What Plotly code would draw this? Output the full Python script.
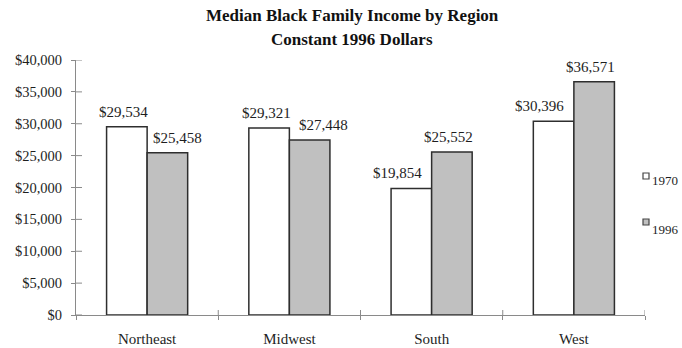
import plotly.graph_objects as go

regions = ["Northeast", "Midwest", "South", "West"]
income_1970 = [29534, 29321, 19854, 30396]
income_1996 = [25458, 27448, 25552, 36571]
years = ["1970", "1996"]
y_ticks = [0, 5000, 10000, 15000, 20000, 25000, 30000, 35000, 40000]
title_lines = ["Median Black Family Income by Region", "Constant 1996 Dollars"]

SERIF = "Liberation Serif, Times New Roman, serif"
fills = ["#ffffff", "#c0c0c0"]
AXIS_GRAY = "#8a8a8a"
TEXT = "#1e1e1e"

# plot area in pixels
L, R, T, B = 76, 37, 60, 33
W, H = 682, 348
pw, ph = W - L - R, H - T - B

BARGAP = 0.43
half_offset = (1 - BARGAP) / 4          # bar centre offset from category centre
# horizontal nudges (px) for the value labels of each series
label_nudge = [[-3, -3, -14, -14], [10, 14, -3, -4]]


def px_x(p):
    return (p - L) / pw


def px_y(p):
    return (H - B - p) / ph


def money(v):
    return "${:,}".format(v)


fig = go.Figure()
for s, (name, vals, col) in enumerate(zip(years, [income_1970, income_1996], fills)):
    fig.add_trace(go.Bar(
        x=regions, y=vals, name=name,
        marker=dict(color=col, line=dict(color="#2e2e2e", width=1.5)),
        showlegend=False, hovertemplate="%{x}: %{y:$,}<extra>" + name + "</extra>",
    ))
    sign = -1 if s == 0 else 1
    for i, v in enumerate(vals):
        fig.add_annotation(
            x=i + sign * half_offset, y=v, xref="x", yref="y",
            text=money(v), showarrow=False,
            xanchor="center", yanchor="middle",
            xshift=label_nudge[s][i], yshift=15,
            font=dict(family=SERIF, size=15, color=TEXT),
        )

# two-line bold title
for line, cy in zip(title_lines, [16, 39]):
    fig.add_annotation(text="<b>" + line + "</b>", xref="paper", yref="paper",
                       x=px_x(352), y=px_y(cy), xanchor="center", yanchor="middle",
                       showarrow=False,
                       font=dict(family=SERIF, size=17, color="#111111"))

# tick marks crossing the axes: inward halves drawn as short segments
for t in y_ticks:
    fig.add_shape(type="line", xref="paper", yref="y",
                  x0=0, x1=px_x(L + 6), y0=t, y1=t,
                  line=dict(color=AXIS_GRAY, width=1))
for b in [0.5, 1.5, 2.5, 3.5]:
    fig.add_shape(type="line", xref="x", yref="paper",
                  x0=b, x1=b, y0=0, y1=px_y(H - B - 5),
                  line=dict(color=AXIS_GRAY, width=1))

fig.update_layout(
    width=W, height=H,
    margin=dict(l=L, r=R, t=T, b=B, autoexpand=False),
    paper_bgcolor="white", plot_bgcolor="white",
    barmode="group", bargap=BARGAP, bargroupgap=0,
    font=dict(family=SERIF, size=14, color=TEXT),
    xaxis=dict(
        range=[-0.5, 3.5], automargin=False,
        showline=True, linecolor=AXIS_GRAY, linewidth=1,
        ticks="outside", ticklen=4, tickcolor=AXIS_GRAY,
        tickson="boundaries", showgrid=False, zeroline=False,
        tickfont=dict(family=SERIF, size=15, color=TEXT),
        ticklabelstandoff=10,
    ),
    yaxis=dict(
        range=[0, 40000], tickvals=y_ticks, automargin=False,
        ticktext=[money(v) for v in y_ticks],
        showline=True, linecolor=AXIS_GRAY, linewidth=1,
        ticks="outside", ticklen=4, tickcolor=AXIS_GRAY,
        showgrid=False, zeroline=False,
        tickfont=dict(family=SERIF, size=14.5, color=TEXT),
        ticklabelstandoff=6,
    ),
)

# legend: small swatches with year labels set slightly low
legend_rows = [(173, 180), (219, 229)]
for (sq_top, txt_y), name, col in zip(legend_rows, years, fills):
    fig.add_shape(type="rect", xref="paper", yref="paper",
                  x0=px_x(643), x1=px_x(649), y0=px_y(sq_top + 6), y1=px_y(sq_top),
                  fillcolor=col, line=dict(color="#444444", width=1.2))
    fig.add_annotation(text=name, xref="paper", yref="paper",
                       x=px_x(650), y=px_y(txt_y), xanchor="left", yanchor="middle",
                       showarrow=False,
                       font=dict(family=SERIF, size=13, color=TEXT))

fig.write_html("out.html")
